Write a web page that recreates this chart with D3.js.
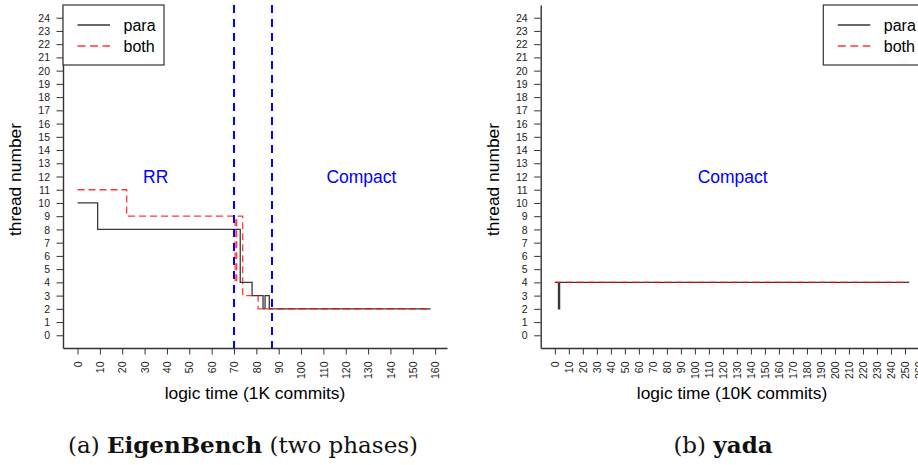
<!DOCTYPE html>
<html>
<head>
<meta charset="utf-8">
<script src="https://cdn.jsdelivr.net/npm/d3@7/dist/d3.min.js"></script>
<style>
  body { margin: 0; background: #fff; }
  svg { display: block; font-family: "Liberation Sans", Arial, sans-serif; }
</style>
</head>
<body>
<svg id="fig" width="918" height="465"></svg>
<script>
/* global d3 */
"use strict";

// (a) EigenBench -- logic time in 1K commits, step values
var eigenParaX = [0, 9, 72.8, 78.1, 83.0, 83.9, 85.8, 158];
var eigenParaY = [10, 8, 4, 3, 2, 3, 2, 2];
var eigenBothX = [0, 22, 70.5, 71.2, 73.9, 80.8, 158];
var eigenBothY = [11, 9, 4, 9, 3, 2, 2];
var eigenPhases = [70, 87];
var eigenNotes = [{x: 35, y: 12, text: "RR"}, {x: 127, y: 12, text: "Compact"}];
var eigenXTicks = [0, 10, 20, 30, 40, 50, 60, 70, 80, 90, 100, 110, 120, 130, 140, 150, 160];

// (b) yada -- logic time in 10K commits
var yadaParaX = [0, 2.6, 3.4, 253];
var yadaParaY = [4, 2, 4, 4];
var yadaBothX = [0, 253];
var yadaBothY = [4, 4];
var yadaNotes = [{x: 127, y: 12, text: "Compact"}];
var yadaXTicks = [0, 10, 20, 30, 40, 50, 60, 70, 80, 90, 100, 110, 120, 130,
  140, 150, 160, 170, 180, 190, 200, 210, 220, 230, 240, 250, 260];

var yTicks = [0, 1, 2, 3, 4, 5, 6, 7, 8, 9, 10, 11, 12, 13, 14, 15, 16, 17, 18, 19, 20, 21, 22, 23, 24];
var seriesNames = ["para", "both"];

function threadChart() {
  var plot = {left: 63, right: 447, top: 5, bottom: 348},
    xDomain = [0, 1],
    xTicks = [],
    xAxisLegend = "x",
    legendLeft = 63,
    xScale = d3.scaleLinear(),
    yScale = d3.scaleLinear().domain([-0.96, 24.96]);

  var styles = {
    para: {stroke: "rgba(0,0,0,0.78)", dash: null},
    both: {stroke: "rgba(255,0,0,0.78)", dash: "7,4"}
  };

  function chart(selection) {
    selection.each(function(data) {
      var g = d3.select(this);

      xScale.domain(xDomain).range([plot.left, plot.right]);
      yScale.range([plot.bottom, plot.top]);

      // y axis
      var yAxis = g.append("g").attr("class", "y axis")
        .attr("transform", "translate(" + plot.left + ",0)")
        .call(d3.axisLeft(yScale).tickValues(yTicks)
          .tickSizeInner(6.5).tickSizeOuter(0).tickPadding(6.5));
      yAxis.select(".domain").attr("stroke", "#333").attr("stroke-width", 1.4);
      yAxis.selectAll(".tick line").attr("stroke", "#333");
      yAxis.selectAll("text")
        .attr("font-size", 10.5).attr("fill", "#222")
        .attr("font-family", "Liberation Sans, Arial, sans-serif")
        .attr("dy", "0.34em");

      // x axis, labels turned on their side
      var xAxis = g.append("g").attr("class", "x axis")
        .attr("transform", "translate(0," + plot.bottom + ")")
        .call(d3.axisBottom(xScale).tickValues(xTicks)
          .tickSizeInner(6.5).tickSizeOuter(0));
      xAxis.select(".domain").attr("stroke", "#333").attr("stroke-width", 1.4);
      xAxis.selectAll(".tick line").attr("stroke", "#333");
      xAxis.selectAll("text")
        .attr("font-size", 10.5).attr("fill", "#222")
        .attr("font-family", "Liberation Sans, Arial, sans-serif")
        .attr("transform", "rotate(-90)")
        .attr("text-anchor", "end")
        .attr("x", -13.5).attr("y", 0).attr("dy", "0.35em");

      g.append("text")
        .attr("class", "axis_legend")
        .attr("x", (plot.left + plot.right) / 2)
        .attr("y", 399)
        .attr("text-anchor", "middle")
        .attr("font-size", 17.4)
        .text(xAxisLegend);

      g.append("text")
        .attr("class", "axis_legend")
        .attr("transform", "translate(" + (plot.left - 42) + "," + ((plot.top + plot.bottom) / 2 + 3) + ") rotate(-90)")
        .attr("text-anchor", "middle")
        .attr("font-size", 17.4)
        .text("thread number");

      // step lines
      var line = d3.line()
        .x(function(d) { return xScale(d[0]); })
        .y(function(d) { return yScale(d[1]); })
        .curve(d3.curveStepAfter);

      g.selectAll(".series")
        .data(seriesNames)
        .enter().append("path")
          .attr("class", "series")
          .attr("fill", "none")
          .attr("stroke-width", 1.3)
          .attr("stroke", function(k) { return styles[k].stroke; })
          .attr("stroke-dasharray", function(k) { return styles[k].dash; })
          .attr("d", function(k) { return line(data[k]); });

      // phase boundaries
      g.selectAll(".phase")
        .data(data.phases)
        .enter().append("line")
          .attr("class", "phase")
          .attr("x1", function(d) { return xScale(d); })
          .attr("x2", function(d) { return xScale(d); })
          .attr("y1", plot.top)
          .attr("y2", plot.bottom)
          .attr("stroke", "#0000ff")
          .attr("stroke-width", 2)
          .attr("stroke-dasharray", "8,6");

      g.selectAll(".note")
        .data(data.notes)
        .enter().append("text")
          .attr("class", "note")
          .attr("x", function(d) { return xScale(d.x); })
          .attr("y", function(d) { return yScale(d.y); })
          .attr("dy", "0.36em")
          .attr("text-anchor", "middle")
          .attr("font-size", 17.5)
          .attr("fill", "#0000ff")
          .text(function(d) { return d.text; });

      // legend
      var legend = g.append("g").attr("class", "legend")
        .attr("transform", "translate(" + legendLeft + "," + plot.top + ")");
      legend.append("rect")
        .attr("width", 101).attr("height", 60)
        .attr("fill", "#fff").attr("stroke", "#333").attr("stroke-width", 1.2);
      var item = legend.selectAll(".item")
        .data(seriesNames)
        .enter().append("g")
          .attr("class", "item")
          .attr("transform", function(d, i) { return "translate(0," + (20 + i * 21) + ")"; });
      item.append("line")
        .attr("x1", 14.5).attr("x2", 47)
        .attr("stroke-width", 1.3)
        .attr("stroke", function(k) { return styles[k].stroke; })
        .attr("stroke-dasharray", function(k) { return styles[k].dash ? "8,4.5" : null; });
      item.append("text")
        .attr("x", 60.5).attr("y", 5.5)
        .attr("font-size", 16)
        .text(function(k) { return k; });
    });
  }

  chart.plot = function(_) {
    if (!arguments.length) return plot;
    plot = _;
    return chart;
  };

  chart.xDomain = function(_) {
    if (!arguments.length) return xDomain;
    xDomain = _;
    return chart;
  };

  chart.xTicks = function(_) {
    if (!arguments.length) return xTicks;
    xTicks = _;
    return chart;
  };

  chart.xAxisLegend = function(_) {
    if (!arguments.length) return xAxisLegend;
    xAxisLegend = _;
    return chart;
  };

  chart.legendLeft = function(_) {
    if (!arguments.length) return legendLeft;
    legendLeft = _;
    return chart;
  };

  return chart;
}

var svg = d3.select("#fig");

var eigenChart = threadChart()
  .plot({left: 63, right: 447, top: 5, bottom: 348})
  .xDomain([-6.5, 165.3])
  .xTicks(eigenXTicks)
  .xAxisLegend("logic time (1K commits)")
  .legendLeft(63);

var yadaChart = threadChart()
  .plot({left: 540.7, right: 923.3, top: 5, bottom: 348})
  .xDomain([-10.1, 263.1])
  .xTicks(yadaXTicks)
  .xAxisLegend("logic time (10K commits)")
  .legendLeft(823.3);

svg.append("g").datum({
  para: d3.zip(eigenParaX, eigenParaY),
  both: d3.zip(eigenBothX, eigenBothY),
  phases: eigenPhases,
  notes: eigenNotes
}).call(eigenChart);

svg.append("g").datum({
  para: d3.zip(yadaParaX, yadaParaY),
  both: d3.zip(yadaBothX, yadaBothY),
  phases: [],
  notes: yadaNotes
}).call(yadaChart);

// sub-figure captions
var captions = [
  {x: 243, parts: [["(a) ", "normal"], ["EigenBench", "bold"], [" (two phases)", "normal"]]},
  {x: 723, parts: [["(b) ", "normal"], ["yada", "bold"]]}
];

svg.selectAll(".caption")
  .data(captions)
  .enter().append("text")
    .attr("class", "caption")
    .attr("x", function(d) { return d.x; })
    .attr("y", 453)
    .attr("text-anchor", "middle")
    .attr("font-family", "DejaVu Serif, serif")
    .attr("font-size", 23)
    .attr("fill", "#111")
    .selectAll("tspan")
    .data(function(d) { return d.parts; })
    .enter().append("tspan")
      .attr("font-weight", function(p) { return p[1]; })
      .text(function(p) { return p[0]; });
</script>
</body>
</html>
